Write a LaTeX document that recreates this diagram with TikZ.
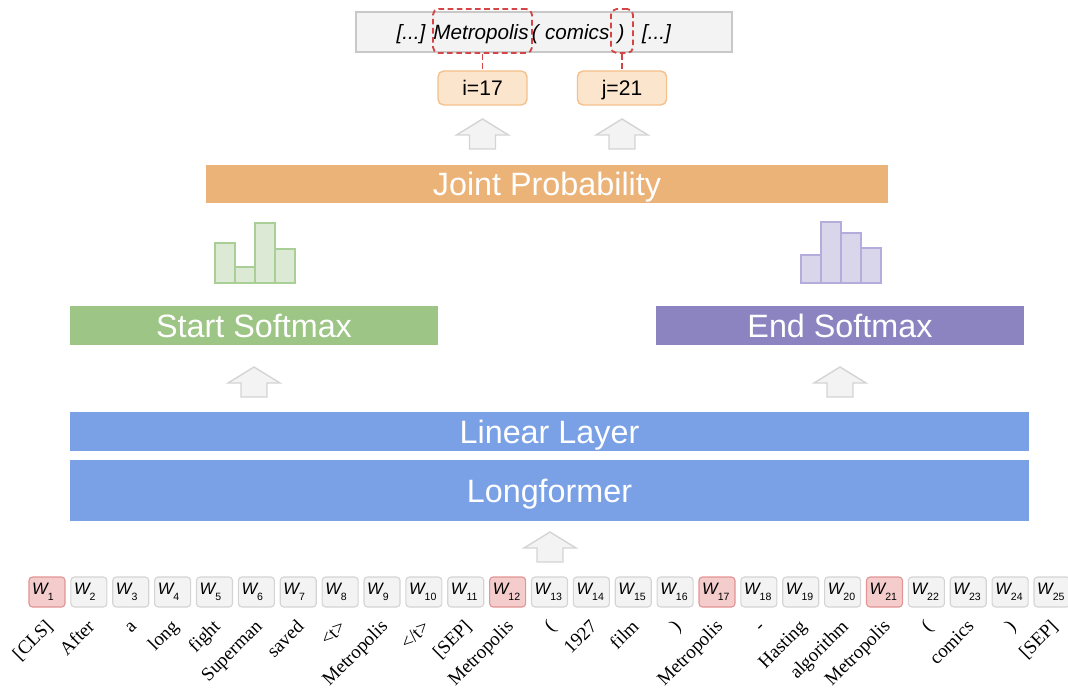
\documentclass[tikz,border=0pt]{standalone}
\usepackage{fontspec}
\setmainfont{Liberation Serif}
\setsansfont{Liberation Sans}
\usetikzlibrary{positioning}

\definecolor{jointc}{HTML}{EBB377}
\definecolor{startc}{HTML}{9DC585}
\definecolor{endc}{HTML}{8C84C1}
\definecolor{layerc}{HTML}{7AA0E6}
\definecolor{tokfill}{HTML}{F3F3F3}
\definecolor{tokdraw}{HTML}{D4D4D4}
\definecolor{redfill}{HTML}{F4CCCC}
\definecolor{reddraw}{HTML}{E39494}
\definecolor{idxfill}{HTML}{FCE5CD}
\definecolor{idxdraw}{HTML}{F5C08A}
\definecolor{spanred}{HTML}{D64545}
\definecolor{histgfill}{HTML}{DCE9D5}
\definecolor{histgdraw}{HTML}{A9CF96}
\definecolor{histpfill}{HTML}{D9D5EA}
\definecolor{histpdraw}{HTML}{B4ACDA}
\definecolor{boxfill}{HTML}{F3F3F3}
\definecolor{boxdraw}{HTML}{C8C8C8}

\begin{document}
\begin{tikzpicture}[
  bar/.style={inner sep=0, text=white, text height=16.5pt, text depth=0pt,
    font=\sffamily\fontsize{23}{27}\selectfont},
  tok/.style={draw=#1draw, fill=#1fill, line width=0.8pt, rounded corners=2.5pt,
    minimum height=0.75cm, text width=0.74cm, inner xsep=0.08cm, inner ysep=0,
    align=left, font=\sffamily\fontsize{11.8}{12}\selectfont},
  lbl/.style={inner sep=0, rotate=45, anchor=base east, font=\fontsize{13.5}{16}\selectfont},
  idx/.style={draw=idxdraw, fill=idxfill, line width=1pt, rounded corners=4pt,
    minimum width=2.225cm, minimum height=0.85cm, text height=10.7pt, text depth=0pt,
    font=\sffamily\fontsize{15}{18}\selectfont},
  word/.style={inner sep=0, text height=10.5pt, text depth=0pt,
    font=\sffamily\itshape\fontsize{14.7}{18}\selectfont},
  spanbox/.style={draw=spanred, dash pattern=on 4pt off 2.5pt, line width=1.3pt,
    rounded corners=4pt, minimum height=1.1cm, inner sep=0},
  spanline/.style={draw=spanred, dash pattern=on 4pt off 2.5pt, line width=1.3pt},
  blockarrow/.style={draw=tokdraw, fill=tokfill, line width=1pt},
  histg/.style={draw=histgdraw, fill=histgfill, line width=1.2pt},
  histp/.style={draw=histpdraw, fill=histpfill, line width=1.2pt}
]
  \useasboundingbox (0,0) rectangle (26.7,-17.325);

  % output span
  \node[draw=boxdraw, fill=boxfill, line width=0.8pt, minimum width=9.4cm, minimum height=1cm] (sentbox) at (13.6,-0.8) {};
  \node[word] (dots1) at (10.275,-0.8) {[...]};
  \node[word] (metro) at (12.025,-0.8) {Metropolis};
  \node[word] (lpar) at (13.38,-0.8) {(};
  \node[word] (comics) at (14.43,-0.8) {comics};
  \node[word] (rpar) at (15.525,-0.8) {)};
  \node[word] (dots2) at (16.4125,-0.8) {[...]};
  \node[spanbox, minimum width=2.475cm] (span1) at (12.0625,-0.775) {};
  \node[spanbox, minimum width=0.55cm] (span2) at (15.55,-0.775) {};
  \node[idx] (idxi) at (12.0625,-2.2) {i=17};
  \node[idx] (idxj) at (15.55,-2.2) {j=21};
  \draw[spanline] (span1) -- (idxi);
  \draw[spanline] (span2) -- (idxj);

  % layers
  \node[bar, fill=jointc, minimum width=17.05cm, minimum height=0.95cm] (joint) at (13.675,-4.6) {Joint Probability};
  \node[bar, fill=startc, minimum width=9.2cm, minimum height=0.975cm] (start) at (6.35,-8.1375) {Start Softmax};
  \node[bar, fill=endc, minimum width=9.2cm, minimum height=0.975cm] (end) at (21,-8.1375) {End Softmax};
  \node[bar, fill=layerc, minimum width=23.975cm, minimum height=0.975cm] (linear) at (13.7375,-10.7875) {Linear Layer};
  \node[bar, fill=layerc, minimum width=23.975cm, minimum height=1.525cm] (longformer) at (13.7375,-12.2625) {Longformer};

  % block arrows
  \foreach \ax/\ay in {12.0625/-2.975, 15.55/-2.975, 6.35/-9.175, 21/-9.175, 13.75/-13.3}
    \draw[blockarrow] (\ax,\ay) -- ++(0.65,-0.4) -- ++(-0.325,0) -- ++(0,-0.35)
      -- ++(-0.65,0) -- ++(0,0.35) -- ++(-0.325,0) -- cycle;

  % histograms
  \foreach \i/\h in {0/-6.075, 1/-6.675, 2/-5.575, 3/-6.225}
    \draw[histg] ({5.375+0.5*\i},-7.075) rectangle ({5.875+0.5*\i},\h);
  \foreach \i/\h in {0/-6.375, 1/-5.55, 2/-5.825, 3/-6.2}
    \draw[histp] ({20.025+0.5*\i},-7.075) rectangle ({20.525+0.5*\i},\h);

  % input tokens
  \foreach \k/\word/\c in {1/{[CLS]}/red, 2/After/tok, 3/a/tok, 4/long/tok, 5/fight/tok,
      6/Superman/tok, 7/saved/tok, 8/{<t>}/tok, 9/Metropolis/tok, 10/{</t>}/tok,
      11/{[SEP]}/tok, 12/Metropolis/red, 13/{(}/tok, 14/1927/tok, 15/film/tok,
      16/{)}/tok, 17/Metropolis/red, 18/{-}/tok, 19/Hasting/tok, 20/algorithm/tok,
      21/Metropolis/red, 22/{(}/tok, 23/comics/tok, 24/{)}/tok, 25/{[SEP]}/tok} {
    \node[tok=\c] (w\k) at ({1.175+(\k-1)*1.046875},-14.8)
      {{\itshape W}\raisebox{-4.5pt}{\fontsize{7.5}{7.5}\selectfont\k}};
    \node[lbl] (t\k) at ([xshift=0.17cm, yshift=-0.5cm]w\k.south) {\word};
  }
\end{tikzpicture}
\end{document}
